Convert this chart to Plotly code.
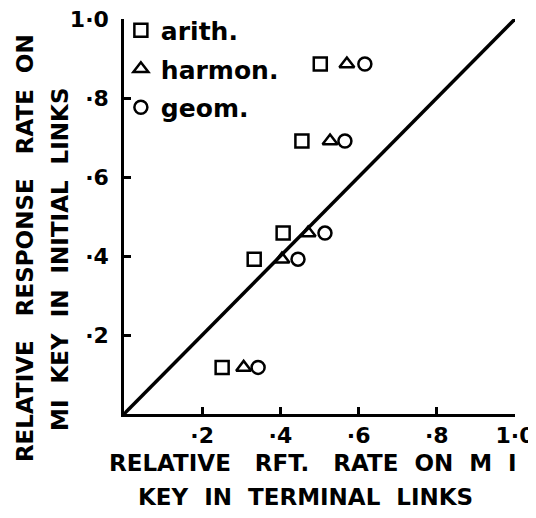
import plotly.graph_objects as go

arith_x = [0.502, 0.455, 0.407, 0.333, 0.251]
arith_y = [0.886, 0.691, 0.458, 0.392, 0.118]
harmon_x = [0.570, 0.527, 0.471, 0.404, 0.306]
harmon_y = [0.886, 0.691, 0.458, 0.392, 0.118]
geom_x = [0.616, 0.565, 0.514, 0.445, 0.343]
geom_y = [0.886, 0.691, 0.458, 0.392, 0.118]

tick_vals = [0.2, 0.4, 0.6, 0.8, 1.0]
tick_text = ["·2", "·4", "·6", "·8", "1·0"]
identity = [0, 1]

FONT = "DejaVu Sans"
NB = "\u00a0"
G2 = NB * 2
G3 = NB * 3

fig = go.Figure()
fig.add_trace(go.Scatter(x=identity, y=identity, mode="lines",
                         line=dict(color="black", width=3.5), showlegend=False,
                         hoverinfo="skip"))
mk = dict(color="black", size=13, line=dict(color="black", width=2.5))
fig.add_trace(go.Scatter(x=arith_x, y=arith_y, mode="markers", name="arith.",
                         legendgroup="a",
                         marker=dict(symbol="square-open", **mk)))
fig.add_trace(go.Scatter(x=harmon_x, y=harmon_y, mode="markers", name="harmon.",
                         legendgroup="h",
                         marker=dict(symbol="triangle-up-open", **mk)))
fig.add_trace(go.Scatter(x=geom_x, y=geom_y, mode="markers", name="geom.",
                         legendgroup="g",
                         marker=dict(symbol="circle-open", **mk)))

axis_common = dict(range=[0, 1.0], tickmode="array", tickvals=tick_vals,
                   ticktext=tick_text, ticks="inside", ticklen=7, tickwidth=2.5,
                   tickcolor="black", showline=True, linecolor="black",
                   linewidth=2.5, showgrid=False, zeroline=False,
                   automargin=False, ticklabeloverflow="allow",
                   tickfont=dict(family=FONT, size=22, color="black",
                                 weight="bold"))

fig.update_xaxes(**axis_common)
fig.update_yaxes(**axis_common, ticklabelstandoff=8)

tfont = dict(family=FONT, size=23, color="black", weight="bold")

fig.update_layout(
    width=528, height=510,
    margin=dict(l=116, r=21, t=11, b=104, autoexpand=False),
    plot_bgcolor="white", paper_bgcolor="white",
    font=dict(family=FONT, size=22, color="black"),
    legend=dict(x=-0.008, y=1.029, xanchor="left", yanchor="top",
                font=dict(family=FONT, size=25, color="black", weight="bold"),
                bgcolor="rgba(0,0,0,0)", tracegroupgap=3),
    annotations=[
        dict(text=f"RELATIVE{G3}RFT.{G3}RATE{G2}ON{G2}M{G2}I", xref="paper",
             yref="paper", x=0.483, y=0, yshift=-49, xanchor="center",
             yanchor="middle", showarrow=False, font=tfont),
        dict(text=f"KEY{G2}IN{G2}TERMINAL{G2}LINKS", xref="paper",
             yref="paper", x=0.463, y=0, yshift=-83, xanchor="center",
             yanchor="middle", showarrow=False, font=tfont),
        dict(text=f"RELATIVE{G3}RESPONSE{G3}RATE{G2}ON", xref="paper",
             yref="paper", x=0, y=0.42, xshift=-99, xanchor="center",
             yanchor="middle", textangle=-90, showarrow=False, font=tfont),
        dict(text=f"MI{G2}KEY{G2}IN{G2}INITIAL{G2}LINKS", xref="paper",
             yref="paper", x=0, y=0.39, xshift=-64, xanchor="center",
             yanchor="middle", textangle=-90, showarrow=False, font=tfont),
    ],
)

fig.write_html("out.html")
